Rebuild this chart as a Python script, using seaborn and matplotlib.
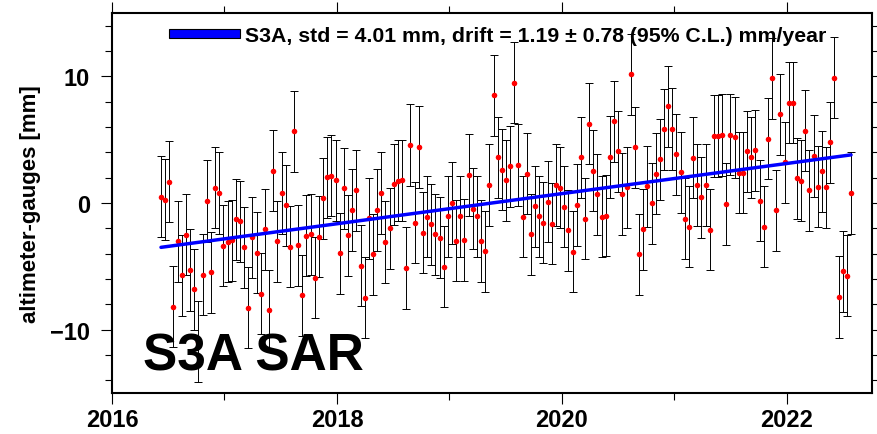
import numpy as np
import pandas as pd
import matplotlib
matplotlib.use("Agg")
import matplotlib.pyplot as plt
import seaborn as sns
from matplotlib.patches import Patch
from matplotlib.ticker import FixedLocator, MultipleLocator

# ---------------- data ----------------
t_start = 2016.4356          # decimal year of first sample
t_step = 0.03695             # sampling interval (years)
values_mm = [
    0.50, 0.26, 1.68, -8.18, -3.03, -5.71, -2.50, -5.29, -6.81, -10.96,
    -5.66, 0.16, -5.47, 1.21, 0.79, -3.37, -3.05, -2.95, -1.29, -1.45,
    -3.50, -8.26, -2.71, -3.92, -7.18, -2.08, -8.47, 2.53, -3.03, 0.79,
    -0.18, -3.45, 5.68, -3.34, -7.29, -2.58, -2.45, -5.90, -2.66, 0.37,
    2.05, 2.16, 1.79, -3.97, 1.18, -2.55, -0.55, 1.00, -4.95, -7.47,
    -1.21, -4.03, -0.55, 0.79, -3.08, -2.00, 1.47, 1.76, 1.79, -5.13,
    4.58, -1.55, 4.42, -2.34, -1.08, -1.68, -2.47, -2.76, -5.03, -1.03,
    0.00, -2.97, -1.03, -2.92, 2.21, -0.47, -1.03, -3.00, -3.82, 1.42,
    8.52, 3.60, 2.63, 1.79, 2.89, 9.50, 3.00, -1.08, 2.31, -2.45,
    -0.26, -1.03, -1.55, 0.11, -1.63, 1.42, 1.21, -0.29, -2.16, -3.84,
    -0.16, 3.60, -1.26, 6.24, 2.55, 0.68, -1.08, -1.00, 3.63, 6.47,
    4.10, 0.71, 1.24, 10.16, 4.39, -4.05, -2.08, 1.31, -0.03, 2.31,
    3.45, 5.82, 7.63, 5.84, 3.84, 2.42, -1.26, -1.89, 3.58, 1.42,
    0.47, 1.42, -2.11, 5.29, 5.29, 5.37, -0.08, 5.39, 5.18, 2.39,
    2.39, 4.08, 3.60, 4.16, 0.18, -1.87, 5.08, 9.84, -0.58, 7.00,
    3.21, 7.92, 7.92, 1.95, 1.74, 5.71, 1.00, 3.71, 1.29, 2.50,
    1.24, 4.79, 9.89, -7.42, -5.39, -5.74, 0.79,
]
err_mm = 3.2
trend_mm = [-3.5, 3.8]       # fitted line at first / last sample
xticks = [2016, 2018, 2020, 2022]
yticks = [-10, 0, 10]
legend_label = "S3A, std = 4.01 mm, drift = 1.19 \u00b1 0.78 (95% C.L.) mm/year"
ylabel = "altimeter-gauges [mm]"
panel_text = "S3A SAR"

# ---------------- style ----------------
sns.set_style("ticks")
plt.rcParams["font.family"] = ["Liberation Sans", "DejaVu Sans"]
plt.rcParams.update({
    "font.weight": "bold",
    "axes.linewidth": 1.5,
    "text.color": "black",
    "axes.labelcolor": "black",
    "axes.edgecolor": "black",
    "xtick.color": "black",
    "ytick.color": "black",
    "xtick.labelcolor": "black",
    "ytick.labelcolor": "black",
})

dates = t_start + t_step * np.arange(len(values_mm))
df = pd.DataFrame({"t": dates, "v": values_mm})
trend = pd.DataFrame({"t": [dates[0], dates[-1]], "v": trend_mm})

fig = plt.figure(figsize=(8.78, 4.35), dpi=100)
ax = fig.add_axes([112 / 878, 41 / 435, 760 / 878, 380 / 435])

ax.errorbar(df["t"], df["v"], yerr=err_mm, fmt="none", ecolor="black",
            elinewidth=0.7, capsize=3.0, capthick=0.7, zorder=2)
sns.scatterplot(data=df, x="t", y="v", color="red", s=16, linewidth=0,
                ax=ax, zorder=3)
sns.lineplot(data=trend, x="t", y="v", color="blue", lw=2.5, ax=ax,
             zorder=4)

ax.set_xlim(2016, 2022.7556)
ax.set_ylim(-15, 15)
ax.xaxis.set_major_locator(FixedLocator(xticks))
ax.xaxis.set_minor_locator(MultipleLocator(1))
ax.yaxis.set_major_locator(FixedLocator(yticks))
ax.yaxis.set_minor_locator(MultipleLocator(2))
ax.set_xticklabels([str(v) for v in xticks])
ax.tick_params(which="both", direction="out", top=True, right=True,
               labeltop=False, labelright=False, width=0.8,
               color="black", labelcolor="black")
ax.tick_params(which="major", length=8, labelsize=17)
ax.tick_params(which="minor", length=5)
ax.tick_params(axis="x", which="major", pad=3)
ax.tick_params(axis="y", which="major", pad=8)
for lab in ax.get_xticklabels() + ax.get_yticklabels():
    lab.set_fontweight("bold")

ax.set_xlabel("")
ax.set_ylabel(ylabel, fontsize=16, fontweight="bold", color="black")
ax.yaxis.set_label_coords(-0.093, 0.5)

ax.text(0.041, 0.063, panel_text, transform=ax.transAxes, fontsize=37,
        fontweight="bold", ha="left", va="baseline", color="black", zorder=5)

handle = Patch(facecolor="blue", edgecolor="black", linewidth=0.8)
leg = ax.legend([handle], [legend_label], loc="center left",
                bbox_to_anchor=(0.075, 0.9395), frameon=False,
                borderpad=0, borderaxespad=0, handlelength=3.36,
                handleheight=0.28, handletextpad=0.2,
                prop={"size": 15.3, "weight": "bold"})
for txt in leg.get_texts():
    txt.set_color("black")

fig.savefig("out.png", dpi=100)
